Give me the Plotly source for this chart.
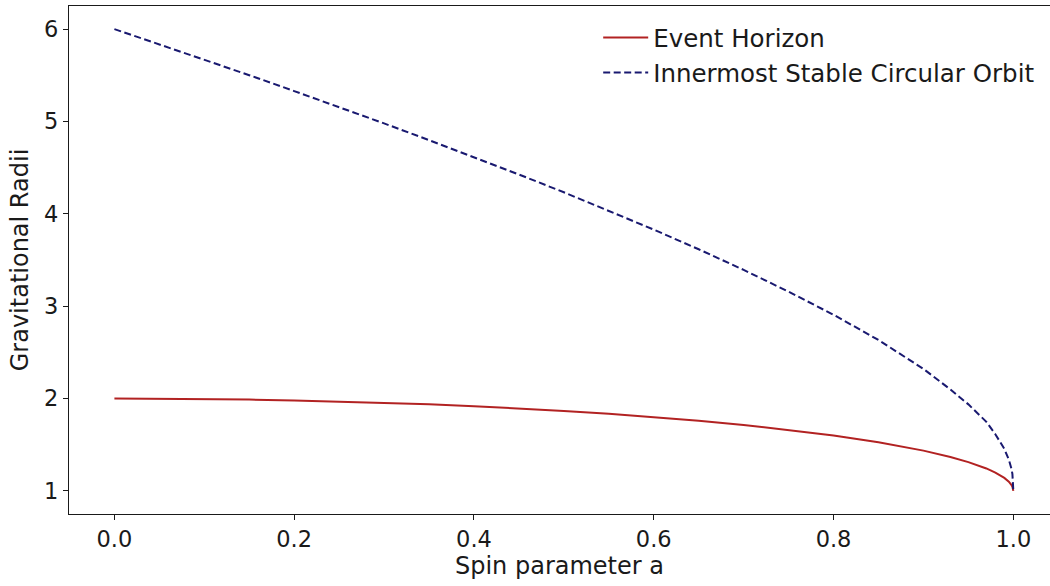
import plotly.graph_objects as go

spin = [0.0, 0.05, 0.1, 0.15, 0.2, 0.25, 0.3, 0.35, 0.4, 0.45, 0.5, 0.55, 0.6, 0.65, 0.7,
        0.75, 0.8, 0.85, 0.9, 0.93, 0.95, 0.97, 0.98, 0.99, 0.995, 0.998, 0.999, 1.0]
event_horizon = [2.0, 1.999, 1.995, 1.989, 1.980, 1.968, 1.954, 1.937, 1.917, 1.893, 1.866,
                 1.835, 1.800, 1.760, 1.714, 1.661, 1.600, 1.527, 1.436, 1.368, 1.312,
                 1.243, 1.199, 1.141, 1.100, 1.063, 1.045, 1.0]
isco = [6.0, 5.835, 5.669, 5.501, 5.329, 5.156, 4.979, 4.798, 4.614, 4.426, 4.233, 4.035,
        3.829, 3.616, 3.393, 3.157, 2.907, 2.634, 2.321, 2.099, 1.937, 1.748, 1.614,
        1.455, 1.338, 1.237, 1.181, 1.0]

x_ticks = [0.0, 0.2, 0.4, 0.6, 0.8, 1.0]
x_tick_labels = ["0.0", "0.2", "0.4", "0.6", "0.8", "1.0"]
y_ticks = [1, 2, 3, 4, 5, 6]

font = "DejaVu Sans"
ink = "#1a1a1a"

fig = go.Figure()
fig.add_trace(go.Scatter(x=spin, y=event_horizon, mode="lines", name="Event Horizon",
                         legendgroup="a",
                         line=dict(color="#b22222", width=2)))
fig.add_trace(go.Scatter(x=spin, y=isco, mode="lines", name="Innermost Stable Circular Orbit",
                         legendgroup="b",
                         line=dict(color="#191970", width=2, dash="7px,3.5px")))

fig.update_layout(
    width=1050, height=586,
    margin=dict(l=69, r=0, t=6, b=72),
    plot_bgcolor="white", paper_bgcolor="white",
    font=dict(family=font, size=22, color=ink),
    showlegend=True,
    legend=dict(x=0.99, y=0.982, xanchor="right", yanchor="top",
                bgcolor="rgba(255,255,255,0)", borderwidth=0,
                font=dict(family=font, size=24.5, color=ink),
                itemwidth=45,
                traceorder="grouped", tracegroupgap=0),
    xaxis=dict(range=[-0.0505, 1.0408], tickvals=x_ticks, ticktext=x_tick_labels,
               showgrid=False, zeroline=False, showline=True, linecolor=ink,
               linewidth=1.2, mirror=True, ticks="outside", ticklen=5, tickcolor=ink,
               tickfont=dict(size=22.5),
               title=dict(text="Spin parameter a", font=dict(size=24), standoff=6)),
    yaxis=dict(range=[0.75, 6.25], tickvals=y_ticks,
               showgrid=False, zeroline=False, showline=True, linecolor=ink,
               linewidth=1.2, ticks="outside", ticklen=5, tickcolor=ink,
               tickfont=dict(size=22.5),
               title=dict(text="Gravitational Radii", font=dict(size=24), standoff=8)),
)

fig.write_html("out.html")
